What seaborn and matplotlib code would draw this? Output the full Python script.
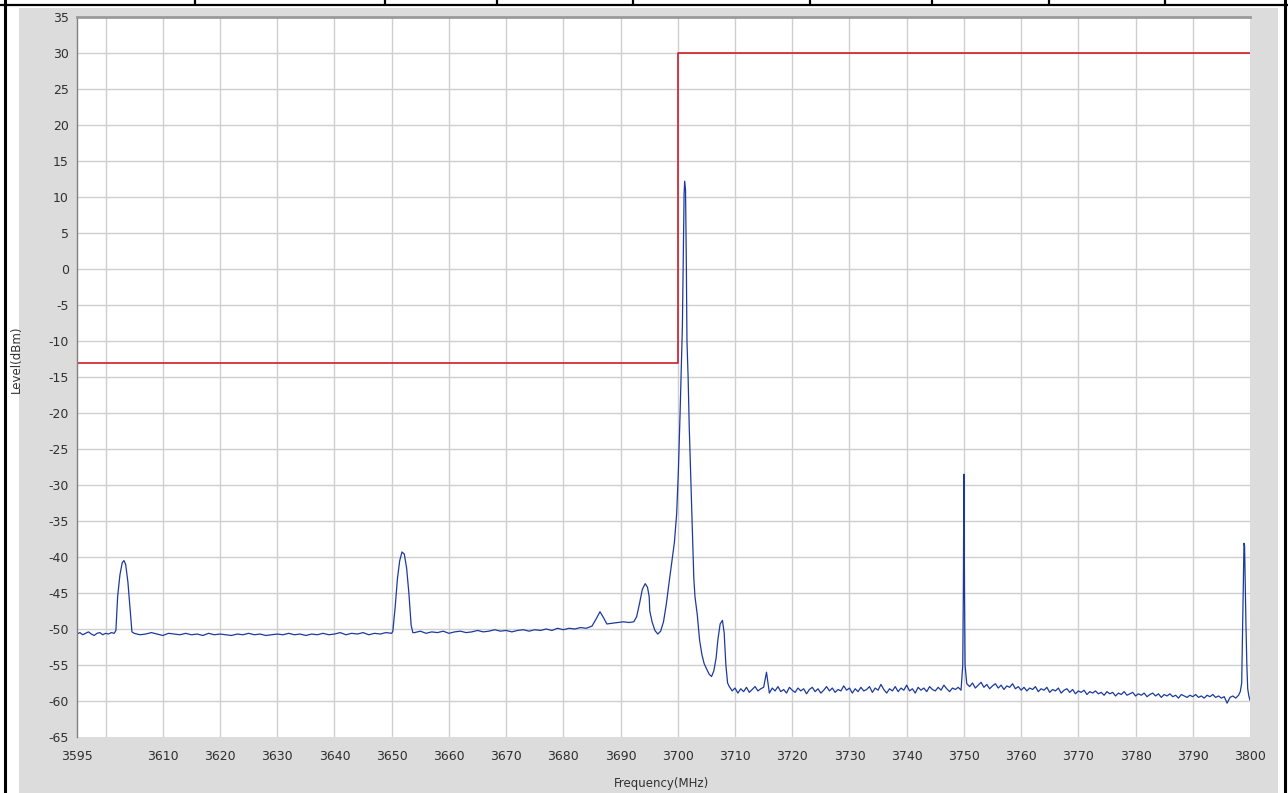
import numpy as np
import pandas as pd
import seaborn as sns
import matplotlib.pyplot as plt
from matplotlib.patches import Rectangle
from matplotlib.lines import Line2D

# ---- data ----
# limit mask (red)
limit_f = [3595, 3700, 3700, 3800]
limit_db = [-13, -13, 30, 30]

# spectrum trace (blue), piece by piece
floor_a_db = [-50.7, -50.5, -50.8, -50.6, -50.4, -50.7, -50.9, -50.6, -50.5, -50.8,
              -50.6, -50.7, -50.5, -50.6]                      # 3595 .. 3601.5 step 0.5
peak1_f = [3601.8, 3602.1, 3602.5, 3602.9, 3603.2, 3603.5, 3603.9, 3604.3, 3604.6]
peak1_db = [-50.2, -45.5, -42.5, -40.8, -40.5, -41.0, -43.5, -47.5, -50.4]
floor_b_db = [-50.6, -50.8, -50.7, -50.5, -50.7, -50.9, -50.6, -50.7, -50.8, -50.6,
              -50.8, -50.7, -50.9, -50.6, -50.8, -50.7, -50.8, -50.9, -50.7, -50.8,
              -50.6, -50.8, -50.7, -50.9, -50.8, -50.7, -50.8, -50.6, -50.8, -50.7,
              -50.9, -50.7, -50.8, -50.6, -50.8, -50.7, -50.5, -50.8, -50.6, -50.7,
              -50.5, -50.8, -50.6, -50.7, -50.5, -50.6]        # 3605 .. 3650 step 1
peak2_f = [3650.2, 3650.6, 3651.0, 3651.4, 3651.8, 3652.2, 3652.6, 3653.0, 3653.4, 3653.7]
peak2_db = [-50.3, -47.0, -43.0, -40.5, -39.3, -39.6, -41.5, -45.0, -49.5, -50.5]
floor_c_db = [-50.5, -50.3, -50.6, -50.4, -50.5, -50.3, -50.6, -50.4, -50.3, -50.5,
              -50.4, -50.2, -50.4, -50.3, -50.1, -50.3, -50.2, -50.4, -50.2, -50.1,
              -50.3, -50.1, -50.2, -50.0, -50.2, -49.9, -50.1, -49.9, -50.0, -49.8,
              -49.9]                                           # 3654 .. 3684 step 1
carrier_f = [3685.0, 3685.8, 3686.4, 3687.0, 3687.6, 3688.5, 3689.5, 3690.5, 3691.5, 3692.3,
             3692.8, 3693.3, 3693.8, 3694.3, 3694.7, 3695.0, 3695.1, 3695.5, 3696.0, 3696.5,
             3697.0, 3697.5, 3698.0, 3698.4, 3698.9, 3699.4, 3699.8, 3700.1, 3700.4, 3700.6,
             3700.8, 3701.0, 3701.1, 3701.2, 3701.35, 3701.5, 3701.6, 3701.8, 3702.0, 3702.3,
             3702.6, 3702.8, 3703.0, 3703.4, 3703.8, 3704.2, 3704.6, 3705.0, 3705.5, 3705.9,
             3706.3, 3706.7, 3707.0, 3707.4, 3707.8, 3708.1, 3708.4, 3708.7]
carrier_db = [-49.6, -48.5, -47.6, -48.4, -49.3, -49.2, -49.1, -49.0, -49.1, -49.0,
              -48.3, -46.5, -44.5, -43.7, -44.2, -45.5, -47.5, -49.0, -50.2, -50.7,
              -50.3, -49.0, -46.5, -44.0, -41.0, -38.0, -34.0, -28.0, -20.0, -14.0,
              -8.0, 5.0, 10.5, 12.2, 11.0, 0.0, -10.0, -15.0, -22.0, -30.0,
              -38.0, -43.0, -45.5, -48.0, -51.5, -53.5, -54.8, -55.5, -56.3, -56.6,
              -55.8, -54.0, -51.5, -49.3, -48.8, -50.5, -55.0, -57.5]
floor_d_db = [-58.0, -58.6, -58.2, -58.9, -58.3, -58.7, -58.1, -58.8, -58.4, -58.0,
              -58.6, -58.3, -58.1, -56.0, -58.9, -58.2, -58.6, -58.0, -58.7, -58.4,
              -58.9, -58.1, -58.5, -58.8, -58.2, -58.6, -58.3, -59.0, -58.4, -58.1,
              -58.7, -58.3, -58.9, -58.5, -58.0, -58.6, -58.2, -58.8, -58.4, -58.6,
              -57.9, -58.5, -58.2, -58.9, -58.3, -58.7, -58.1, -58.6, -58.4, -58.0,
              -58.8, -58.2, -58.5, -57.7, -58.4, -58.9, -58.3, -58.6, -58.0, -58.7,
              -58.2, -58.5, -57.8, -58.6, -58.3, -58.9, -58.1, -58.5, -58.2, -58.7,
              -58.0, -58.4, -58.6, -58.1, -58.5, -57.8, -58.3, -58.7, -58.2, -58.4,
              -58.1, -58.5]                                    # 3709 .. 3749.5 step 0.5
spur_f = [3749.8, 3749.9, 3750.0, 3750.1, 3750.2]
spur_db = [-55.0, -45.0, -28.5, -44.0, -55.0]
floor_e_db = [-57.6, -58.0, -57.5, -58.2, -57.8, -57.4, -58.1, -57.7, -58.3, -57.9,
              -57.6, -58.2, -57.8, -58.4, -57.9, -58.1, -57.6, -58.3, -58.0, -58.5,
              -58.1, -58.6, -58.2, -58.4, -58.0, -58.7, -58.3, -58.5, -58.1, -58.8,
              -58.4, -58.6, -58.2, -58.9, -58.5, -58.3, -58.8, -58.4, -59.0, -58.6,
              -58.8, -58.5, -59.1, -58.7, -58.9, -58.6, -59.0, -58.8, -59.2, -58.7,
              -59.0, -58.8, -59.3, -58.9, -59.1, -58.7, -59.2, -59.0, -58.8, -59.3,
              -59.0, -59.2, -58.9, -59.4, -59.1, -58.9, -59.3, -59.0, -59.5, -59.1,
              -59.3, -59.0, -59.4, -59.2, -59.6, -59.1, -59.3, -59.5, -59.2, -59.4,
              -59.1, -59.5, -59.3, -59.6, -59.2, -59.4, -59.1, -59.5, -59.3, -59.6,
              -59.4, -60.3, -59.5, -59.3, -59.6]               # 3750.5 .. 3797.5 step 0.5
edge_f = [3798.0, 3798.3, 3798.55, 3798.7, 3798.85, 3798.95, 3799.05, 3799.2, 3799.3,
          3799.45, 3799.6, 3799.8, 3800.0]
edge_db = [-59.2, -58.7, -57.5, -50.0, -42.0, -38.1, -38.4, -45.0, -49.7,
           -55.0, -58.3, -59.3, -59.9]

x_ticks = [3595, 3600] + list(range(3610, 3801, 10))
x_labels = ['3595', ''] + [str(v) for v in range(3610, 3801, 10)]
y_ticks = list(range(-65, 36, 5))

# sampling grids of the flat parts
trace_f = np.concatenate([np.arange(3595, 3601.6, 0.5), peak1_f,
                          np.arange(3605, 3650.1, 1.0), peak2_f,
                          np.arange(3654, 3684.1, 1.0), carrier_f,
                          np.arange(3709, 3749.6, 0.5), spur_f,
                          np.arange(3750.5, 3797.6, 0.5), edge_f])
trace_db = np.concatenate([floor_a_db, peak1_db, floor_b_db, peak2_db, floor_c_db,
                           carrier_db, floor_d_db, spur_db, floor_e_db, edge_db])
trace = pd.DataFrame({'f': trace_f, 'db': trace_db})
limit = pd.DataFrame({'f': limit_f, 'db': limit_db})

sns.set_style('white')
plt.rcParams['font.family'] = ['DejaVu Sans']
plt.rcParams['axes.unicode_minus'] = False

W, H = 1288, 793
fig = plt.figure(figsize=(W / 100, H / 100), dpi=100)
fig.patch.set_facecolor('white')
# grey panel of the screenshot
fig.add_artist(Rectangle((19 / W, 0), (1278 - 19) / W, (793 - 8) / H, transform=fig.transFigure,
                         facecolor='#dcdcdc', edgecolor='none', zorder=-5))
# table borders around the screenshot
fig.add_artist(Line2D([5 / W, 5 / W], [0, 1], color='black', lw=2.2))
fig.add_artist(Line2D([1285 / W, 1285 / W], [0, 1], color='black', lw=2.2))
fig.add_artist(Line2D([0, 1], [1 - 5 / H, 1 - 5 / H], color='black', lw=1.6))
for xp in [195, 385, 497, 633, 810, 932, 1049, 1165]:
    fig.add_artist(Line2D([xp / W, xp / W], [1 - 5 / H, 1], color='black', lw=1.6))

ax = fig.add_axes([77 / W, 1 - 737 / H, (1250 - 77) / W, (737 - 17) / H])
ax.set_facecolor('white')

for v in range(3600, 3800, 10):
    ax.axvline(v, color='#cfcfcf', lw=1.0, zorder=0)
for v in y_ticks[1:-1]:
    ax.axhline(v, color='#cfcfcf', lw=1.0, zorder=0)

sns.lineplot(data=limit, x='f', y='db', ax=ax, color='#cc1f2a', lw=1.2,
             estimator=None, sort=False)
sns.lineplot(data=trace, x='f', y='db', ax=ax, color='#1c3a9e', lw=0.9,
             estimator=None, sort=False)

ax.set_xlim(3595, 3800)
ax.set_ylim(-65, 35)
ax.set_xticks(x_ticks)
ax.set_xticklabels(x_labels)
ax.set_yticks(y_ticks)
ax.tick_params(axis='both', direction='out', length=4, width=0.8, color='#404040',
               labelsize=9, labelcolor='#303030')
ax.tick_params(axis='x', pad=5)
ax.tick_params(axis='y', pad=2)
ax.set_xlabel('Frequency(MHz)', fontsize=8.5, color='#303030')
ax.set_ylabel('Level(dBm)', fontsize=8.5, color='#303030')
ax.xaxis.set_label_coords(0.498, -0.0556)
ax.yaxis.set_label_coords(-0.046, 0.524)

for s in ['right', 'bottom']:
    ax.spines[s].set_visible(False)
ax.spines['left'].set_color('#808080')
ax.spines['left'].set_linewidth(1.0)
ax.spines['top'].set_color('#9a9a9a')
ax.spines['top'].set_linewidth(2.0)

fig.savefig('out.png', dpi=100)
